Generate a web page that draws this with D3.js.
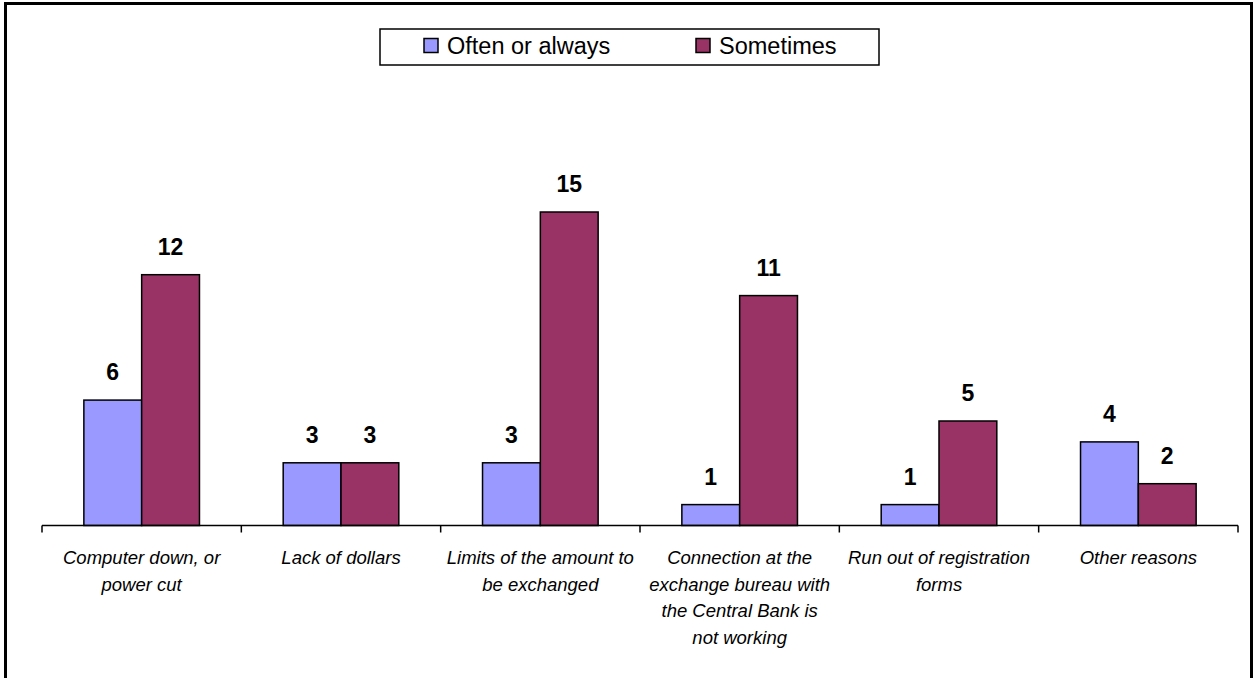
<!DOCTYPE html>
<html>
<head>
<meta charset="utf-8">
<script src="https://cdn.jsdelivr.net/npm/d3@7/dist/d3.min.js"></script>
<style>
  html, body { margin: 0; padding: 0; background: #fff; }
  svg { display: block; font-family: "Liberation Sans", Arial, sans-serif; }
</style>
</head>
<body>
<svg id="chart" width="1254" height="678"></svg>
<script>
// Reasons for problems at the exchange bureau (counts)
const categories = [
  "Computer down, or\npower cut",
  "Lack of dollars",
  "Limits of the amount to\nbe exchanged",
  "Connection at the\nexchange bureau with\nthe Central Bank is\nnot working",
  "Run out of registration\nforms",
  "Other reasons"
];
const seriesNames = ["Often or always", "Sometimes"];
const oftenValues = [6, 3, 3, 1, 1, 4];
const sometimesValues = [12, 3, 15, 11, 5, 2];
const seriesColors = ["#9999FF", "#993366"];

const svg = d3.select("#chart");

// outer frame
svg.append("rect")
  .attr("x", 5.5).attr("y", 3.5)
  .attr("width", 1246).attr("height", 700)
  .attr("fill", "none").attr("stroke", "#000").attr("stroke-width", 3);

const baseline = 525.5;
const x0 = d3.scaleBand().domain(categories).range([42, 1238]).padding(0);
const x1 = d3.scaleBand().domain(seriesNames)
  .range([x0.bandwidth() * 0.21, x0.bandwidth() * 0.79]).padding(0);
const y = d3.scaleLinear().domain([0, 15]).range([baseline, 212]);

const rows = categories.map((c, i) => ({
  category: c,
  values: [
    { series: seriesNames[0], value: oftenValues[i], color: seriesColors[0] },
    { series: seriesNames[1], value: sometimesValues[i], color: seriesColors[1] }
  ]
}));

const groups = svg.append("g").selectAll("g")
  .data(rows).join("g")
  .attr("transform", d => `translate(${x0(d.category)},0)`);

groups.selectAll("rect")
  .data(d => d.values).join("rect")
  .attr("x", d => x1(d.series))
  .attr("y", d => y(d.value))
  .attr("width", x1.bandwidth())
  .attr("height", d => y(0) - y(d.value))
  .attr("fill", d => d.color)
  .attr("stroke", "#000")
  .attr("stroke-width", 1.5);

groups.selectAll("text.val")
  .data(d => d.values).join("text")
  .attr("class", "val")
  .attr("x", d => x1(d.series) + x1.bandwidth() / 2)
  .attr("y", d => y(d.value) - 20)
  .attr("text-anchor", "middle")
  .attr("font-size", 23)
  .attr("font-weight", "bold")
  .text(d => d.value);

// category axis with ticks at band boundaries
const axis = svg.append("g");
axis.append("line")
  .attr("x1", x0.range()[0]).attr("x2", x0.range()[1])
  .attr("y1", baseline).attr("y2", baseline)
  .attr("stroke", "#000").attr("stroke-width", 1.5);
const tickXs = categories.map(c => x0(c)).concat([x0.range()[1]]);
axis.selectAll("line.tick")
  .data(tickXs).join("line")
  .attr("class", "tick")
  .attr("x1", d => d).attr("x2", d => d)
  .attr("y1", baseline).attr("y2", baseline + 7)
  .attr("stroke", "#000").attr("stroke-width", 1.5);

axis.selectAll("text.cat")
  .data(categories).join("text")
  .attr("class", "cat")
  .attr("text-anchor", "middle")
  .attr("font-size", 18.5)
  .attr("font-style", "italic")
  .each(function(d) {
    const t = d3.select(this);
    const cx = x0(d) + x0.bandwidth() / 2;
    d.split("\n").forEach((line, i) => {
      t.append("tspan").attr("x", cx).attr("y", 564 + i * 26.5).text(line);
    });
  });

// legend
const legend = svg.append("g");
legend.append("rect")
  .attr("x", 380).attr("y", 29)
  .attr("width", 499).attr("height", 36)
  .attr("fill", "#fff").attr("stroke", "#000").attr("stroke-width", 1.5);
const legendX = [424, 696];
const items = legend.selectAll("g")
  .data(seriesNames).join("g")
  .attr("transform", (d, i) => `translate(${legendX[i]},0)`);
items.append("rect")
  .attr("x", 0).attr("y", 38.5)
  .attr("width", 14).attr("height", 14)
  .attr("fill", (d, i) => seriesColors[i])
  .attr("stroke", "#000").attr("stroke-width", 1.5);
items.append("text")
  .attr("x", 23).attr("y", 54)
  .attr("font-size", 23.5)
  .text(d => d);
</script>
</body>
</html>
